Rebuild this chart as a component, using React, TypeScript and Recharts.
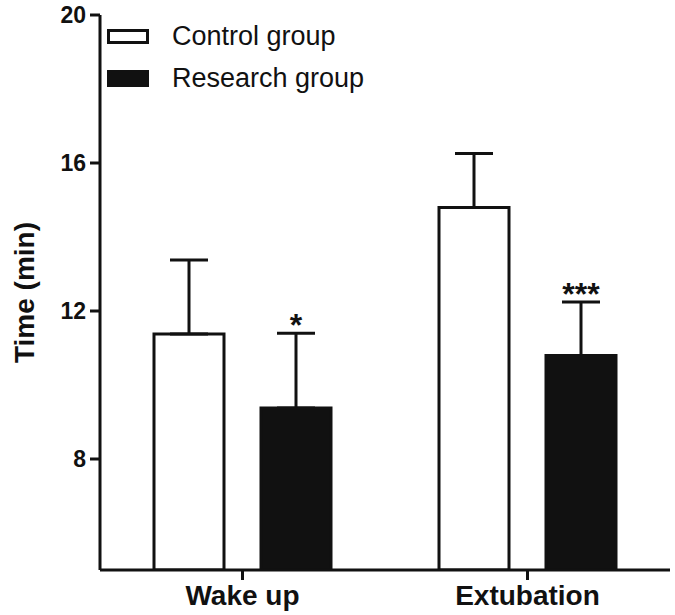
import React from 'react';
import { BarChart, Bar, XAxis, YAxis, ErrorBar, Legend, LabelList, Label } from 'recharts';

const categories = ['Wake up', 'Extubation'];
const controlMeans = [11.38, 14.8];
const controlSd = [2.0, 1.46];
const researchMeans = [9.38, 10.8];
const researchSd = [2.02, 1.44];
const significance = ['*', '***'];
const yTicks = [8, 12, 16, 20];
const Y_MIN = 5;
const Y_MAX = 20;

const INK = '#111';
const FONT = '"Liberation Sans", Arial, Helvetica, sans-serif';

// error bars only go up, so the lower half is 0
const data = categories.map((name, i) => ({
  name,
  control: controlMeans[i],
  controlErr: [0, controlSd[i]],
  research: researchMeans[i],
  researchErr: [0, researchSd[i]],
}));

const Stars = (props: any) => {
  const vb = props.viewBox && props.viewBox.width != null ? props.viewBox : props;
  const { x, y, width, height } = vb;
  let idx = props.index;
  if (idx == null) idx = researchMeans.indexOf(props.value);
  const v = researchMeans[idx];
  const errPx = (researchSd[idx] * Math.abs(height)) / (v - Y_MIN);
  return (
    <text
      x={x + width / 2}
      y={Math.min(y, y + height) - errPx + 3}
      textAnchor="middle"
      fontSize={32}
      fontWeight="bold"
      fill={INK}
      fontFamily={FONT}
    >
      {significance[idx]}
    </text>
  );
};

const LegendBox = () => (
  <div style={{ fontFamily: FONT, fontSize: 27, color: INK, lineHeight: 1 }}>
    <div style={{ display: 'flex', alignItems: 'center', height: 42 }}>
      <div style={{ width: 36, height: 9, border: `3px solid ${INK}`, background: '#fff' }} />
      <span style={{ marginLeft: 23 }}>Control group</span>
    </div>
    <div style={{ display: 'flex', alignItems: 'center', height: 42 }}>
      <div style={{ width: 42, height: 17, background: INK }} />
      <span style={{ marginLeft: 23 }}>Research group</span>
    </div>
  </div>
);

const App: React.FC = () => (
  <div style={{ position: 'absolute', left: 0, top: 0, background: '#fff' }}>
    <BarChart
      width={675}
      height={615}
      data={data}
      margin={{ top: 15, right: 5, bottom: 0, left: 0 }}
      barSize={70}
      barGap={37}
    >
      <XAxis
        dataKey="name"
        height={45}
        axisLine={{ stroke: INK, strokeWidth: 3 }}
        tickLine={{ stroke: INK, strokeWidth: 3 }}
        tickSize={10}
        tickMargin={5}
        tick={{ fontSize: 28, fontWeight: 'bold', fill: INK, fontFamily: FONT }}
      />
      <YAxis
        width={100}
        domain={[Y_MIN, Y_MAX]}
        ticks={yTicks}
        allowDataOverflow
        axisLine={{ stroke: INK, strokeWidth: 3 }}
        tickLine={{ stroke: INK, strokeWidth: 3 }}
        tickSize={10}
        tickMargin={4}
        tick={{ fontSize: 23, fontWeight: 'bold', fill: INK, fontFamily: FONT }}
      >
        <Label
          content={(p: any) => {
            const vb = p.viewBox || {};
            const cy = (vb.y ?? 15) + (vb.height ?? 555) / 2;
            return (
              <text
                x={24}
                y={cy}
                transform={`rotate(-90, 24, ${cy})`}
                textAnchor="middle"
                dominantBaseline="central"
                fontSize={28}
                fontWeight="bold"
                fill={INK}
                fontFamily={FONT}
              >
                Time (min)
              </text>
            );
          }}
        />
      </YAxis>
      <Legend
        layout="horizontal"
        align="center"
        verticalAlign="middle"
        content={<LegendBox />}
        wrapperStyle={{ top: 15, left: 107, width: 'auto', height: 'auto' }}
      />
      <Bar dataKey="control" fill="#fff" stroke={INK} strokeWidth={3} isAnimationActive={false}>
        <ErrorBar dataKey="controlErr" width={19} stroke={INK} strokeWidth={3} />
      </Bar>
      <Bar dataKey="research" fill={INK} stroke={INK} strokeWidth={3} isAnimationActive={false}>
        <ErrorBar dataKey="researchErr" width={19} stroke={INK} strokeWidth={3} />
        <LabelList dataKey="research" content={<Stars />} />
      </Bar>
    </BarChart>
  </div>
);

export default App;
